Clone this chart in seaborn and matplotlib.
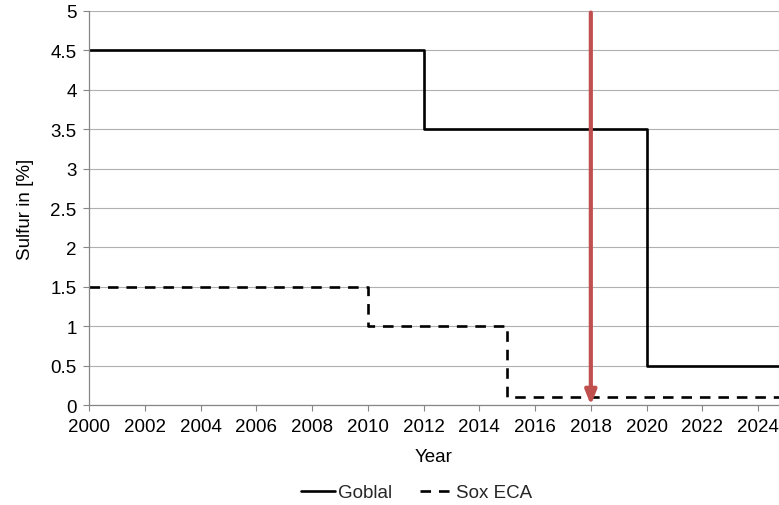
import matplotlib
matplotlib.use("Agg")
import matplotlib.pyplot as plt
import seaborn as sns
import pandas as pd
from matplotlib.lines import Line2D

# Sulfur limits in marine fuel: step changes by year
global_years = [2000, 2012, 2020, 2025]
global_values = [4.5, 3.5, 0.5, 0.5]
eca_years = [2000, 2010, 2015, 2025]
eca_values = [1.5, 1.0, 0.1, 0.1]
marker_year = 2018
x_ticks = list(range(2000, 2025, 2))
y_ticks = [0, 0.5, 1, 1.5, 2, 2.5, 3, 3.5, 4, 4.5, 5]
y_tick_labels = ["0", "0.5", "1", "1.5", "2", "2.5", "3", "3.5", "4", "4.5", "5"]

sns.set_theme(style="white")
plt.rcParams["font.family"] = ["Liberation Sans", "DejaVu Sans"]

df_global = pd.DataFrame({"Year": global_years, "Sulfur": global_values})
df_eca = pd.DataFrame({"Year": eca_years, "Sulfur": eca_values})

fig = plt.figure(figsize=(7.79, 5.06), dpi=100)
ax = fig.add_axes([0.1143, 0.1976, 0.8857, 0.7787])

sns.lineplot(data=df_global, x="Year", y="Sulfur", ax=ax, color="black",
             linewidth=1.9, drawstyle="steps-post")
sns.lineplot(data=df_eca, x="Year", y="Sulfur", ax=ax, color="black",
             linewidth=1.9, drawstyle="steps-post", linestyle=(0, (4, 3)))

ax.annotate("", xy=(marker_year, 0.0), xytext=(marker_year, 4.98),
            arrowprops=dict(arrowstyle="-|>,head_length=0.7,head_width=0.28",
                            color="#C0504D", lw=3, shrinkA=0, shrinkB=0),
            zorder=5)

ax.set_xlim(2000, 2024.75)
ax.set_ylim(0, 5)
ax.set_xticks(x_ticks)
ax.set_yticks(y_ticks)
ax.set_yticklabels(y_tick_labels)
ax.yaxis.grid(True, color="#B0B0B0", linewidth=0.8)
ax.set_axisbelow(True)

for side in ["top", "right"]:
    ax.spines[side].set_visible(False)
for side in ["left", "bottom"]:
    ax.spines[side].set_color("#868686")
    ax.spines[side].set_linewidth(0.9)

ax.tick_params(axis="both", which="both", direction="out", length=4,
               width=0.8, color="#868686", labelsize=13.5, labelcolor="black")
ax.tick_params(axis="x", bottom=True, pad=5)
ax.tick_params(axis="y", left=True, pad=5)

ax.set_xlabel("Year", fontsize=13.5, labelpad=10, color="black")
ax.set_ylabel("Sulfur in [%]", fontsize=13.5, labelpad=12, color="black")

handles = [Line2D([], [], color="black", linewidth=1.9),
           Line2D([], [], color="black", linewidth=1.9, linestyle=(0, (4, 3)))]
fig.legend(handles, ["Goblal", "Sox ECA"], loc="lower center",
           bbox_to_anchor=(0.535, -0.026), ncol=2, frameon=False,
           fontsize=13.5, handlelength=1.8, handletextpad=0.15,
           columnspacing=1.5)

fig.savefig("out.png", dpi=100)
